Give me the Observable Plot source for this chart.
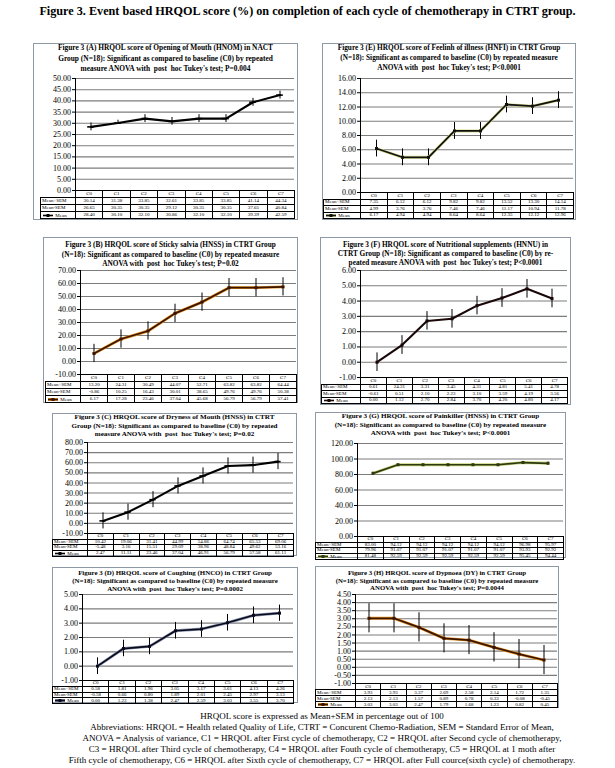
<!DOCTYPE html>
<html><head><meta charset="utf-8">
<script src="https://cdn.jsdelivr.net/npm/d3@7"></script>
<script src="https://cdn.jsdelivr.net/npm/@observablehq/plot@0.6"></script>
<style>
body{margin:0;background:#fff;}
#root{position:relative;width:615px;height:768px;font-family:"Liberation Serif",serif;color:#000;overflow:hidden;background:#fff}
.main{position:absolute;left:0;width:615px;top:4px;text-align:center;font-size:12.2px;font-weight:bold;white-space:nowrap}
.box{position:absolute;border:1px solid #8d99a4;box-sizing:border-box;background:#fff}
.ttl{position:absolute;left:0;right:0;text-align:center;font-weight:bold;white-space:pre}
.ttl div{position:absolute;left:0;right:0;line-height:1}
.box svg{position:absolute;left:0;top:0;overflow:visible}
table.dt{position:absolute;border-collapse:collapse;table-layout:fixed;font-size:5px;line-height:4px}
table.dt td{border:0.8px solid #000;padding:0;text-align:center;overflow:hidden;white-space:nowrap}
table.dt td.lab{text-align:left;padding-left:1px;font-size:5px}
table.dt tr.hd td.blank{border:none}
.foot{position:absolute;left:0;width:644px;text-align:center;font-size:9px;white-space:nowrap}
</style></head>
<body><div id="root"></div>
<script>
const cycles = ["C0","C1","C2","C3","C4","C5","C6","C7"];

// (A) Opening of Mouth (HNOM)
const hnomHi   = [30.14,31.38,33.85,32.61,33.85,33.85,41.14,44.34];
const hnomLo   = [26.65,30.35,30.35,29.12,30.35,30.35,37.65,40.84];
const hnomMean = [28.40,30.10,32.10,30.86,32.10,32.10,39.39,42.59];
const hnomTicks = [0,5,10,15,20,25,30,35,40,45,50];

// (E) Feeling of illness (HNFI)
const hnfiHi   = [7.35,6.12,6.12,9.82,9.82,13.52,13.30,14.14];
const hnfiLo   = [4.99,3.76,3.76,7.46,7.46,11.17,10.94,11.78];
const hnfiMean = [6.17,4.94,4.94,8.64,8.64,12.35,12.12,12.96];
const hnfiTicks = [0,2,4,6,8,10,12,14,16];

// (B) Sticky saliva (HNSS)
const hnssHi   = [13.20,24.31,30.49,44.07,52.71,63.82,63.82,64.44];
const hnssLo   = [-0.86,10.25,16.43,30.01,38.65,49.76,49.76,50.38];
const hnssMean = [6.17,17.28,23.46,37.04,45.68,56.79,56.79,57.41];
const hnssTicks = [-10,0,10,20,30,40,50,60,70];

// (F) Nutritional supplements (HNNU)
const hnnuHi   = [0.61,1.74,3.31,3.45,4.31,4.81,5.41,4.78];
const hnnuHiText = ["0.61","24.31","3.31","3.45","4.31","4.81","5.41","4.78"];
const hnnuLo   = [-0.61,0.51,2.10,2.23,3.10,3.59,4.19,3.56];
const hnnuMean = [0.00,1.12,2.70,2.84,3.70,4.20,4.80,4.17];
const hnnuTicks = [-1,0,1,2,3,4,5,6];

// (C) Dryness of Mouth
const hndmHi   = [10.42,19.06,31.41,44.99,54.86,64.74,65.53,69.06];
const hndmLo   = [-5.48,3.16,15.51,29.09,38.96,48.84,49.62,53.16];
const hndmMean = [2.47,11.11,23.46,37.04,46.91,56.79,57.58,61.11];
const hndmTicks = [-10,0,10,20,30,40,50,60,70,80];

// (G) Painkiller
const hnpkHi   = [83.00,94.12,94.12,94.12,94.12,94.12,96.98,95.97];
const hnpkLo   = [79.96,91.07,91.07,91.07,91.07,91.07,93.93,92.92];
const hnpkMean = [81.48,92.59,92.59,92.59,92.59,92.59,95.45,94.44];
const hnpkTicks = [0,20,40,60,80,100,120];

// (D) Coughing (HNCO)
const hncoHi   = [0.58,1.81,1.96,3.05,3.17,3.61,4.13,4.26];
const hncoLo   = [-0.58,0.66,0.80,1.89,2.01,2.45,2.97,3.13];
const hncoMean = [0.00,1.23,1.38,2.47,2.59,3.03,3.55,3.70];
const hncoTicks = [-1,0,1,2,3,4,5];

// (H) Dyspnoea (DY)
const dyHi   = [3.93,3.93,3.37,2.69,2.58,2.14,1.72,1.35];
const dyLo   = [2.13,2.13,1.57,0.89,0.78,0.33,-0.08,-0.45];
const dyMean = [3.03,3.03,2.47,1.79,1.68,1.23,0.82,0.45];
const dyTicks = [-1,-0.5,0,0.5,1,1.5,2,2.5,3,3.5,4,4.5];

const mainTitle = "Figure 3. Event based HRQOL score (%) on completion of each cycle of chemotherapy in CTRT group.";
const footLines = [
 "HRQOL score is expressed as Mean+SEM in percentage out of 100",
 "Abbreviations: HRQOL = Health related Quality of Life, CTRT = Concurent Chemo-Radiation, SEM = Standard Error of Mean,",
 "ANOVA = Analysis of variance, C1 = HRQOL after First cycle of chemotherapy, C2 = HRQOL after Second cycle of chemotherapy,",
 "C3 = HRQOL after Third cycle of chemotherapy, C4 = HRQOL after Fouth cycle of chemotherapy, C5 = HRQOL at 1 moth after",
 "Fifth cycle of chemotherapy, C6 = HRQOL after Sixth cycle of chemotherapy, C7 = HRQOL after Full cource(sixth cycle) of chemotherapy."
];

const panels = [
 {title:["Figure 3 (A) HRQOL score of Opening of Mouth (HNOM) in NACT","Group (N=18): Significant as compared to baseline (C0) by repeated","measure ANOVA with  post  hoc Tukey's test; P=0.004"],
  hi:hnomHi, lo:hnomLo, mean:hnomMean, ticks:hnomTicks, fs:7.4,
  box:{x:33,y:43,w:265,h:177}, plot:{l:75,r:294,t:78,b:190}, tab:{l:40,b:218}, ty:[48,59,69],
  stroke:"#000", halo:null, marker:"tick"},
 {title:["Figure 3 (E) HRQOL score of Feelinh of illness (HNFI) in CTRT Group","(N=18): Significant as compared to baseline (C0) by repeated measure","ANOVA with  post  hoc Tukey's test; P<0.0001"],
  hi:hnfiHi, lo:hnfiLo, mean:hnfiMean, ticks:hnfiTicks, fs:7.3,
  box:{x:322,y:43,w:254,h:177}, plot:{l:360,r:573,t:78,b:192}, tab:{l:323,b:218}, ty:[48,58,68],
  stroke:"#111", halo:"#d6d98a", marker:"square"},
 {title:["Figure 3 (B) HRQOL score of Sticky salvia (HNSS) in CTRT Group","(N=18): Significant as compared to baseline (C0) by repeated measure","ANOVA with  post  hoc Tukey's test; P=0.02"],
  hi:hnssHi, lo:hnssLo, mean:hnssMean, ticks:hnssTicks, fs:7.3,
  box:{x:43,y:237,w:255,h:166}, plot:{l:80,r:296,t:270,b:374}, tab:{l:45,b:402}, ty:[245,255,264],
  stroke:"#3a1400", halo:"#e8941f", marker:"square"},
 {title:["Figure 3 (F) HRQOL score of Nutritional supplements (HNNU) in","CTRT Group (N=18): Significant as compared to baseline (C0) by re-","peated measure ANOVA with  post  hoc Tukey's test; P<0.0001"],
  hi:hnnuHi, hiText:hnnuHiText, lo:hnnuLo, mean:hnnuMean, ticks:hnnuTicks, fs:7.3,
  box:{x:320,y:237,w:251,h:168}, plot:{l:360,r:567,t:270,b:377}, tab:{l:321,b:403}, ty:[245,254,263],
  stroke:"#1a0808", halo:null, marker:"square"},
 {title:["Figure 3 (C) HRQOL score of Dryness of Mouth (HNSS) in CTRT","Group (N=18): Significant as compared to baseline (C0) by repeated","measure ANOVA with  post  hoc Tukey's test; P=0.02"],
  hi:hndmHi, lo:hndmLo, mean:hndmMean, ticks:hndmTicks, fs:7.1,
  box:{x:52,y:413,w:245,h:143}, plot:{l:87,r:293,t:442,b:533}, tab:{l:52,b:555}, ty:[418,427,435],
  stroke:"#000", halo:null, marker:"tick"},
 {title:["Figure 3 (G) HRQOL score of Painkiller (HNSS) in CTRT Group","(N=18): Significant as compared to baseline (C0) by repeated measure","ANOVA with  post  hoc Tukey's test; P<0.0001"],
  hi:hnpkHi, lo:hnpkLo, mean:hnpkMean, ticks:hnpkTicks, fs:7.1,
  box:{x:315,y:412,w:251,h:146}, plot:{l:357,r:563,t:443,b:536}, tab:{l:315,b:558}, ty:[417,426,434],
  stroke:"#2e3b10", halo:"#c9d27a", marker:"square"},
 {title:["Figure 3 (D) HRQOL score of Coughing (HNCO) in CTRT Group","(N=18): Significant as compared to baseline (C0) by repeated measure","ANOVA with  post  hoc Tukey's test; P=0.0002"],
  hi:hncoHi, lo:hncoLo, mean:hncoMean, ticks:hncoTicks, fs:6.9,
  box:{x:52,y:567,w:246,h:136}, plot:{l:82,r:293,t:594,b:680}, tab:{l:52,b:703}, ty:[573,581,589],
  stroke:"#0a0a1a", halo:"#8a97b4", marker:"square"},
 {title:["Figure 3 (H) HRQOL score of Dypnoea (DY) in CTRT Group","(N=18): Significant as compared to baseline (C0) by repeated measure","ANOVA with  post  hoc Tukey's test; P=0.0044"],
  hi:dyHi, lo:dyLo, mean:dyMean, ticks:dyTicks, fs:6.8,
  box:{x:315,y:566,w:244,h:142}, plot:{l:355,r:557,t:594,b:683}, tab:{l:315,b:707}, ty:[573,581,588.5],
  stroke:"#3a1400", halo:"#e8941f", marker:"square"}
];

const root = d3.select("#root");
root.append("div").attr("class","main").text(mainTitle);
const fmt = v => v.toFixed(2);

for (const p of panels) {
  const bx = p.box.x, by = p.box.y;
  const box = root.append("div").attr("class","box")
    .style("left", bx+"px").style("top", by+"px").style("width", p.box.w+"px").style("height", p.box.h+"px");
  const ttl = box.append("div").attr("class","ttl").style("font-size", p.fs+"px");
  p.title.forEach((t,i) => ttl.append("div").style("top", (p.ty[i]-by-1-p.fs/2)+"px").text(t));

  const data = cycles.map((c,i) => ({c, mean:p.mean[i], hi:p.hi[i], lo:p.lo[i]}));
  const W = p.box.w - 2;
  const ymin = p.ticks[0], ymax = p.ticks[p.ticks.length-1];
  const marks = [
    Plot.gridY(p.ticks, {stroke:"#7c7c7c", strokeOpacity:1, strokeWidth:1.1}),
    Plot.frame({anchor:"left", stroke:"#000", strokeWidth:1}),
    Plot.axisY(p.ticks, {tickFormat: fmt, tickSize:3, tickPadding:1.5, fontSize:8, stroke:"#000"}),
    Plot.ruleX(data, {x:"c", y1:"lo", y2:"hi", stroke:"#000", strokeWidth:1})
  ];
  if (p.halo) marks.push(Plot.line(data, {x:"c", y:"mean", stroke:p.halo, strokeWidth:2.9}));
  marks.push(Plot.line(data, {x:"c", y:"mean", stroke:p.stroke, strokeWidth: p.halo ? 1.7 : 2.1}));
  const bw = (p.plot.r - p.plot.l)/8;
  if (p.marker === "tick") marks.push(Plot.tickY(data, {x:"c", y:"mean", stroke:p.stroke, strokeWidth:1.6, insetLeft:bw/2-3.5, insetRight:bw/2-3.5}));
  else marks.push(Plot.dot(data, {x:"c", y:"mean", symbol:"square", r:1.7, fill:p.stroke, stroke:"none"}));

  const svg = Plot.plot({
    width: W, height: p.plot.b - by - 1,
    marginLeft: p.plot.l - bx - 1, marginRight: bx + p.box.w - 1 - p.plot.r,
    marginTop: p.plot.t - by - 1, marginBottom: 0,
    x: {type:"band", domain:cycles, padding:0, axis:null},
    y: {domain:[ymin, ymax], axis:null},
    style: {fontFamily:"Liberation Serif, serif", fontSize:"8px", background:"transparent", color:"#000", overflow:"visible"},
    marks
  });
  box.node().appendChild(svg);

  // data table
  const th = p.tab.b - p.plot.b;
  const rh = th/4;
  const firstW = p.plot.l - p.tab.l;
  const tbl = box.append("table").attr("class","dt")
    .style("left", (p.tab.l - bx - 1)+"px").style("top", (p.plot.b - by - 1)+"px")
    .style("width", (p.plot.r - p.tab.l)+"px");
  const cg = tbl.append("colgroup");
  cg.append("col").style("width", firstW+"px");
  cycles.forEach(() => cg.append("col").style("width", bw+"px"));
  const hd = tbl.append("tr").attr("class","hd").style("height", rh+"px");
  hd.append("td").attr("class","blank");
  cycles.forEach(c => hd.append("td").text(c));
  const r1 = tbl.append("tr").style("height", rh+"px");
  r1.append("td").attr("class","lab").text("Mean+SEM");
  (p.hiText || p.hi.map(fmt)).forEach(v => r1.append("td").text(v));
  const r2 = tbl.append("tr").style("height", rh+"px");
  r2.append("td").attr("class","lab").text("Mean-SEM");
  p.lo.forEach(v => r2.append("td").text(fmt(v)));
  const r3 = tbl.append("tr").style("height", rh+"px");
  const lc = r3.append("td").attr("class","lab");
  const sw = lc.append("svg").attr("width",12).attr("height",5).style("position","static").style("vertical-align","middle");
  if (p.halo) sw.append("line").attr("x1",1).attr("x2",11).attr("y1",2.5).attr("y2",2.5).attr("stroke",p.halo).attr("stroke-width",3);
  sw.append("line").attr("x1",1).attr("x2",11).attr("y1",2.5).attr("y2",2.5).attr("stroke",p.stroke).attr("stroke-width",1.6);
  sw.append("rect").attr("x",4.5).attr("y",1).attr("width",3).attr("height",3).attr("fill",p.stroke);
  lc.append("span").text(" Mean");
  p.mean.forEach(v => r3.append("td").text(fmt(v)));
}

footLines.forEach((t,i) => {
  root.append("div").attr("class","foot").style("top", (711 + i*11)+"px").text(t);
});
</script></body></html>
